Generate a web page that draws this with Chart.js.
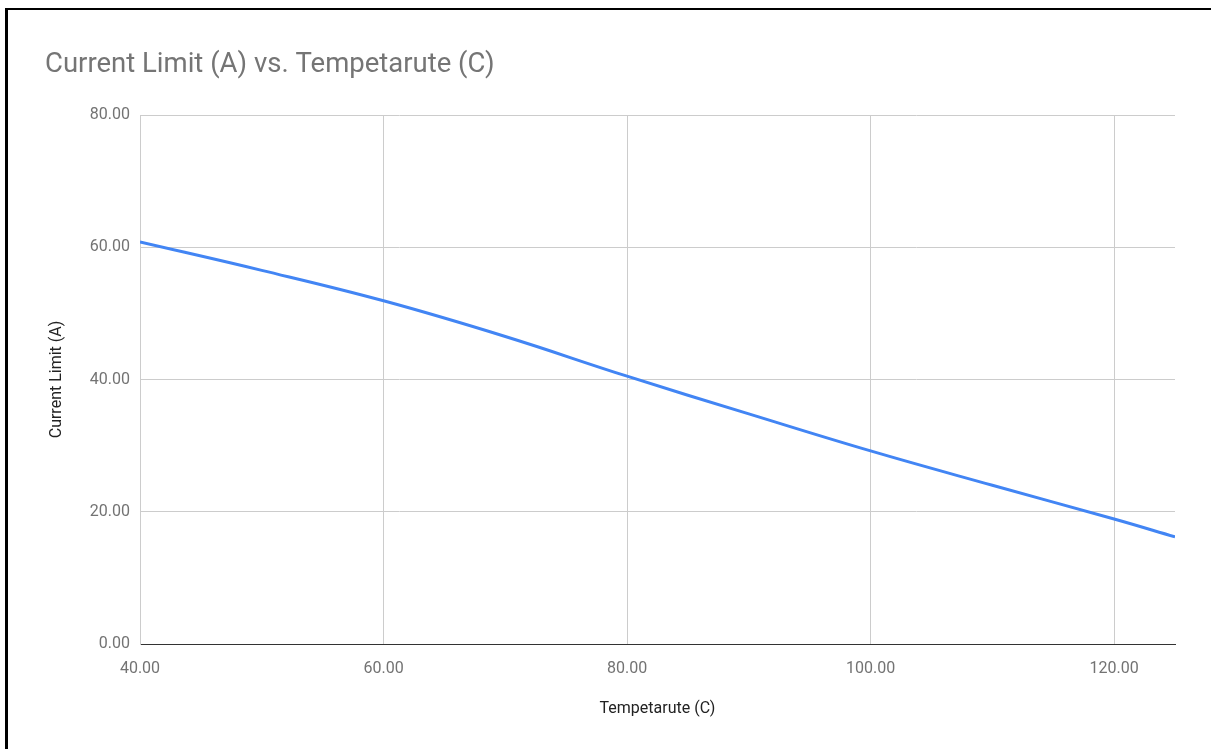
<!DOCTYPE html>
<html>
<head>
<meta charset="utf-8">
<script src="https://cdn.jsdelivr.net/npm/chart.js@4/dist/chart.umd.min.js"></script>
<style>
  html, body { margin: 0; padding: 0; background: #fff; overflow: hidden; }
  #wrap { position: absolute; left: 0; top: 0; width: 1211px; height: 749px; }
  #frame { position: absolute; left: 5px; top: 8px; width: 1300px; height: 800px;
           border-left: 3px solid #000; border-top: 2px solid #000; pointer-events: none; }
</style>
</head>
<body>
<div id="wrap"><canvas id="chart1"></canvas></div>
<div id="frame"></div>
<script>
// temperature (C) and current limit (A)
var temps = [40, 50, 60, 70, 80, 90, 100, 110, 120, 125];
var currents = [60.8, 56.5, 51.9, 46.5, 40.5, 34.8, 29.2, 24.0, 18.9, 16.2];

var chartTitle = 'Current Limit (A) vs. Tempetarute (C)';
var xTitle = 'Tempetarute (C)';
var yTitle = 'Current Limit (A)';

var points = temps.map((t, i) => ({ x: t, y: currents[i] }));

Chart.defaults.font.family = 'Roboto, sans-serif';

var my_ctx = document.getElementById('chart1');
var myChart1 = new Chart(my_ctx, {
    type: 'line',
    data: {
        datasets: [{
            label: yTitle,
            data: points,
            borderColor: '#4285f4',
            borderWidth: 3,
            pointRadius: 0,
            fill: false,
            tension: 0.4
        }]
    },
    options: {
        responsive: true,
        maintainAspectRatio: false,
        animation: false,
        layout: { padding: { left: 45, right: 36, top: 0, bottom: 0 } },
        plugins: {
            legend: { display: false },
            tooltip: { enabled: false },
            title: {
                display: true,
                text: chartTitle,
                align: 'start',
                color: '#757575',
                font: { size: 27.5, weight: 'normal' },
                padding: { top: 49, bottom: 33 }
            }
        },
        scales: {
            x: {
                type: 'linear',
                min: 40,
                max: 125,
                afterFit: (s) => { s.height = 105; },
                grid: { color: '#cccccc', drawTicks: false },
                border: { color: '#333333', width: 1 },
                ticks: {
                    stepSize: 20,
                    includeBounds: false,
                    padding: 15,
                    color: '#737373',
                    font: { size: 16 },
                    maxRotation: 0,
                    callback: (v) => v.toFixed(2)
                },
                title: {
                    display: true,
                    text: xTitle,
                    color: '#222222',
                    font: { size: 16 },
                    padding: { top: 0, bottom: 30 }
                }
            },
            y: {
                min: 0,
                max: 80,
                afterFit: (s) => { s.width = 95; },
                grid: {
                    color: (c) => c.tick && c.tick.value === 0 ? 'rgba(0,0,0,0)' : '#cccccc',
                    drawTicks: false
                },
                border: { color: '#cccccc', width: 1 },
                ticks: {
                    stepSize: 20,
                    padding: 10,
                    color: '#737373',
                    font: { size: 16 },
                    callback: (v) => v.toFixed(2)
                },
                title: {
                    display: true,
                    text: yTitle,
                    color: '#222222',
                    font: { size: 16 },
                    padding: { top: 2, bottom: 0 }
                }
            }
        }
    }
});
</script>
</body>
</html>
